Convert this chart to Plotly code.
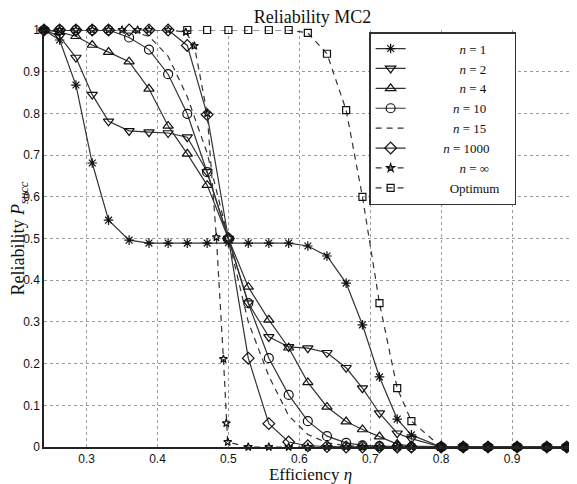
import plotly.graph_objects as go

# ---- data ----
X = [0.24, 0.262, 0.285, 0.308, 0.331, 0.36, 0.388, 0.415, 0.442, 0.47, 0.5,
     0.528, 0.557, 0.585, 0.612, 0.639, 0.666, 0.689, 0.713, 0.738, 0.758,
     0.8, 0.831, 0.866, 0.907, 0.949, 0.977, 0.986]

n1 = [1, 0.976, 0.868, 0.681, 0.544, 0.496, 0.489, 0.489, 0.489, 0.489, 0.49,
      0.489, 0.489, 0.489, 0.482, 0.458, 0.393, 0.293, 0.168, 0.067, 0.029,
      0, 0, 0, 0, 0, 0, 0]
n2 = [1, 0.985, 0.934, 0.845, 0.781, 0.758, 0.755, 0.753, 0.743, 0.66, 0.5,
      0.345, 0.264, 0.24, 0.237, 0.226, 0.19, 0.141, 0.081, 0.033, 0.02,
      0, 0, 0, 0, 0, 0, 0]
n4 = [1, 0.995, 0.985, 0.964, 0.947, 0.924, 0.859, 0.77, 0.703, 0.628, 0.5,
      0.384, 0.305, 0.238, 0.155, 0.096, 0.061, 0.042, 0.025, 0.007, 0.002,
      0, 0, 0, 0, 0, 0, 0]
n10 = [1, 1, 1, 1, 1, 0.982, 0.953, 0.894, 0.799, 0.659, 0.5,
       0.345, 0.213, 0.125, 0.062, 0.026, 0.01, 0.004, 0.002, 0.001, 0,
       0, 0, 0, 0, 0, 0, 0]
n15 = [1, 1, 1, 1, 1, 0.998, 0.985, 0.937, 0.84, 0.705, 0.5,
       0.3, 0.17, 0.075, 0.03, 0.01, 0.003, 0.001, 0, 0, 0,
       0, 0, 0, 0, 0, 0, 0]
n1000 = [1, 1, 1, 1, 1, 1, 1, 1, 0.963, 0.797, 0.5,
         0.213, 0.056, 0.012, 0.003, 0.001, 0, 0, 0, 0, 0,
         0, 0, 0, 0, 0, 0, 0]

X_inf = [0.24, 0.262, 0.285, 0.308, 0.331, 0.35, 0.372, 0.388, 0.415, 0.44,
         0.452, 0.47, 0.483, 0.493, 0.497, 0.499, 0.528, 0.557, 0.585, 0.612,
         0.639, 0.666, 0.689, 0.713, 0.738, 0.758, 0.8, 0.831, 0.866, 0.907,
         0.949, 0.977, 0.986]
n_inf = [1, 1, 1, 1, 1, 1, 1, 1, 1, 0.995,
         0.962, 0.80, 0.503, 0.211, 0.057, 0.012, 0, 0, 0, 0,
         0, 0, 0, 0, 0, 0, 0, 0, 0, 0,
         0, 0, 0]

X_opt = [0.442, 0.47, 0.5, 0.528, 0.557, 0.585, 0.612, 0.639, 0.666, 0.689,
         0.713, 0.738, 0.758, 0.8, 0.831, 0.866, 0.907, 0.949, 0.977, 0.986]
optimum = [1, 1, 1, 1, 1, 1, 0.993, 0.943, 0.808, 0.6,
           0.345, 0.141, 0.062, 0, 0, 0, 0, 0, 0, 0]

x_ticks = [0.3, 0.4, 0.5, 0.6, 0.7, 0.8, 0.9]
x_tick_labels = ["0.3", "0.4", "0.5", "0.6", "0.7", "0.8", "0.9"]
y_ticks = [0, 0.1, 0.2, 0.3, 0.4, 0.5, 0.6, 0.7, 0.8, 0.9, 1]
y_tick_labels = ["0", "0.1", "0.2", "0.3", "0.4", "0.5", "0.6", "0.7", "0.8", "0.9", "1"]

# ---- styling ----
LINE = "#333333"
DASH = "6px,5px"
SERIF = "Liberation Serif, DejaVu Serif, serif"
SANS = "Liberation Sans, Arial, sans-serif"

NB = "\u00a0"

def lab(text, pad, tail=0):
    return NB * pad + text + NB * tail

series = [
    (X, n1, lab("<i>n</i> = 1", 15), "asterisk-open", 8, "solid", "lines+markers"),
    (X, n2, lab("<i>n</i> = 2", 15), "triangle-down-open", 9, "solid", "lines+markers"),
    (X, n4, lab("<i>n</i> = 4", 15), "triangle-up-open", 9, "solid", "lines+markers"),
    (X, n10, lab("<i>n</i> = 10", 13), "circle-open", 9, "solid", "lines+markers"),
    (X, n15, lab("<i>n</i> = 15", 13), "circle-open", 1, DASH, "lines"),
    (X, n1000, lab("<i>n</i> = 1000", 10, 6), "diamond-open", 9, "solid", "lines+markers"),
    (X_inf, n_inf, lab("<i>n</i> = ∞", 15), "star-open", 6, DASH, "lines+markers"),
    (X_opt, optimum, lab("Optimum", 12), "square-open", 7, DASH, "lines+markers"),
]

fig = go.Figure()
for xs, ys, name, sym, size, dash, mode in series:
    fig.add_trace(go.Scatter(
        x=xs, y=ys, name=name, mode=mode,
        line=dict(color=LINE, width=1.2, dash=dash),
        marker=dict(symbol=sym, size=size, color="#111111",
                    line=dict(color="#111111", width=1.2)),
        cliponaxis=False,
    ))

# The page body has an 8px margin, so the figure is sized to fit the window.
fig.update_layout(
    width=569, height=476, autosize=False,
    margin=dict(l=36, r=0, t=22, b=37),
    paper_bgcolor="white", plot_bgcolor="white",
    title=dict(text="Reliability MC2", x=0.535, xanchor="center",
               y=1 - 9 / 476, yanchor="middle", pad=dict(t=0, b=0),
               font=dict(family=SERIF, size=18, color="#111111")),
    showlegend=True,
    legend=dict(x=0.61, y=0.995, xanchor="left", yanchor="top",
                bgcolor="white", bordercolor="#333333", borderwidth=1.5,
                font=dict(family=SERIF, size=13, color="#111111"),
                tracegroupgap=0, itemwidth=30),
    font=dict(family=SANS, color="#222222"),
)

fig.update_xaxes(
    range=[0.24, 0.9915], tickvals=x_ticks, ticktext=x_tick_labels,
    showgrid=True, gridcolor="#9a9a9a", griddash="dot", gridwidth=1,
    showline=True, linecolor="#222222", linewidth=1.5, mirror=False,
    ticks="", zeroline=False, automargin=False,
    tickfont=dict(family=SANS, size=12, color="#111111"),
    title=dict(text="Efficiency <i>η</i>", standoff=3,
               font=dict(family=SERIF, size=17, color="#111111")),
)
fig.update_yaxes(
    range=[0, 1], tickvals=y_ticks, ticktext=y_tick_labels,
    showgrid=True, gridcolor="#9a9a9a", griddash="dot", gridwidth=1,
    showline=True, linecolor="#222222", linewidth=1.5, mirror=False,
    ticks="", zeroline=False, automargin=False,
    tickfont=dict(family=SANS, size=12, color="#111111"),
    title=dict(text="Reliability <i>P</i><sub><i>succ</i></sub>" + NB * 7,
               standoff=8,
               font=dict(family=SERIF, size=18, color="#111111")),
)

fig.write_html("out.html")
